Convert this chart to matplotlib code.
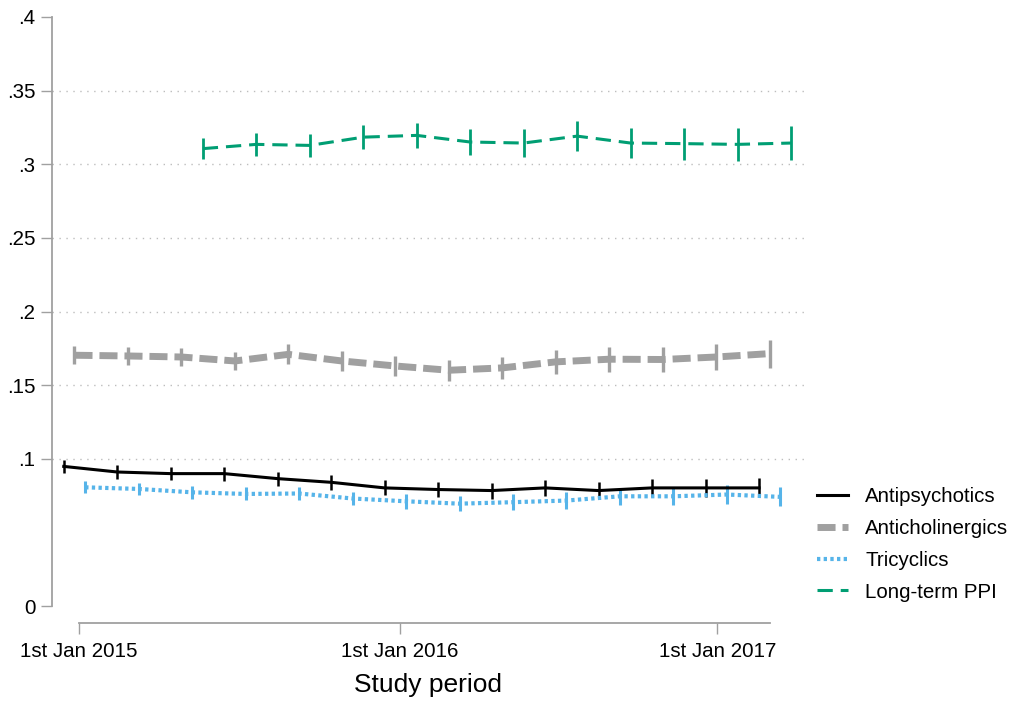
import matplotlib
matplotlib.use("Agg")
import matplotlib.pyplot as plt
import numpy as np

plt.rcParams["font.family"] = ["Liberation Sans", "DejaVu Sans"]

# Two-month study periods (index of each period)
periods = np.arange(14)
ppi_periods = np.arange(2, 14)

antipsychotics = [0.0948, 0.0910, 0.0899, 0.0899, 0.0865, 0.0840, 0.0802,
                  0.0791, 0.0784, 0.0802, 0.0784, 0.0802, 0.0802, 0.0802]
antipsychotics_ci = [0.0044, 0.0045, 0.0046, 0.0047, 0.0048, 0.0050, 0.0051,
                     0.0053, 0.0054, 0.0056, 0.0058, 0.0060, 0.0062, 0.0064]

anticholinergics = [0.1703, 0.1698, 0.1691, 0.1664, 0.1709, 0.1664, 0.1630,
                    0.1601, 0.1617, 0.1658, 0.1676, 0.1674, 0.1691, 0.1714]
anticholinergics_ci = [0.0061, 0.0058, 0.0064, 0.0060, 0.0068, 0.0068, 0.0071,
                       0.0073, 0.0074, 0.0081, 0.0084, 0.0088, 0.0091, 0.0095]

tricyclics = [0.0806, 0.0795, 0.0772, 0.0761, 0.0764, 0.0730, 0.0711,
              0.0695, 0.0705, 0.0716, 0.0745, 0.0745, 0.0757, 0.0741]
tricyclics_ci = [0.0040, 0.0041, 0.0043, 0.0044, 0.0046, 0.0047, 0.0049,
                 0.0051, 0.0053, 0.0055, 0.0057, 0.0059, 0.0062, 0.0065]

ppi = [0.3106, 0.3135, 0.3128, 0.3184, 0.3196, 0.3151, 0.3144, 0.3191,
       0.3144, 0.3140, 0.3135, 0.3144]
ppi_ci = [0.0073, 0.0079, 0.0080, 0.0083, 0.0085, 0.0090, 0.0095, 0.0100,
          0.0104, 0.0108, 0.0113, 0.0115]

labels = ["Antipsychotics", "Anticholinergics", "Tricyclics", "Long-term PPI"]

x_tick_labels = ["1st Jan 2015", "1st Jan 2016", "1st Jan 2017"]
x_tick_pos = [0.28, 6.28, 12.22]
y_ticks = [0, 0.1, 0.15, 0.2, 0.25, 0.3, 0.35, 0.4]
y_tick_labels = ["0", ".1", ".15", ".2", ".25", ".3", ".35", ".4"]
grid_levels = [0.1, 0.15, 0.2, 0.25, 0.3, 0.35]

fig = plt.figure(figsize=(10.33, 7.04), dpi=100)
ax = fig.add_axes([52 / 1033, 81 / 704, (805 - 52) / 1033, (623 - 17) / 704])

for g in grid_levels:
    ax.axhline(g, color="#bdbdbd", lw=1.0, ls=(0, (1, 4)), zorder=0)

series = [
    (periods + 0.0, antipsychotics, antipsychotics_ci, "black", 2.2, "-", 1.8),
    (periods + 0.2, anticholinergics, anticholinergics_ci, "#a0a0a0", 5.0, (0, (2.6, 1.0)), 2.4),
    (periods + 0.4, tricyclics, tricyclics_ci, "#56b4e9", 3.0, (0, (0.8, 0.8)), 2.2),
    (ppi_periods + 0.6, ppi, ppi_ci, "#009e73", 2.2, (0, (5.0, 2.6)), 2.0),
]

handles = []
for (x, y, e, c, lw, ls, elw), lab in zip(series, labels):
    eb = ax.errorbar(x, y, yerr=e, color=c, lw=lw, ls=ls, elinewidth=elw,
                     capsize=0, label=lab)
    handles.append(eb.lines[0])

ax.set_ylim(-(623 - 606) / 1472.5, 0.4)
ax.set_xlim(-0.22, 13.86)

ax.set_yticks(y_ticks)
ax.set_yticklabels(y_tick_labels)
ax.set_xticks(x_tick_pos)
ax.set_xticklabels(x_tick_labels)

for side in ["top", "right"]:
    ax.spines[side].set_visible(False)
ax.spines["left"].set_bounds(0, 0.4)
ax.spines["bottom"].set_bounds(0.28, 13.2)
for side in ["left", "bottom"]:
    ax.spines[side].set_color("#a0a0a0")
    ax.spines[side].set_linewidth(1.3)

ax.tick_params(axis="both", colors="#a0a0a0", labelcolor="black",
               labelsize=14.8, length=8, width=1.0, pad=4)
ax.tick_params(axis="x", pad=6)

ax.set_xlabel("Study period", fontsize=19, labelpad=8)

leg = fig.legend(handles, labels, loc="center left",
                 bbox_to_anchor=(817 / 1033, (704 - 544.5) / 704),
                 frameon=False, fontsize=14.8, handlelength=1.5,
                 handletextpad=0.85, labelspacing=0.62, borderpad=0,
                 borderaxespad=0)

fig.savefig("out.png", dpi=100)
